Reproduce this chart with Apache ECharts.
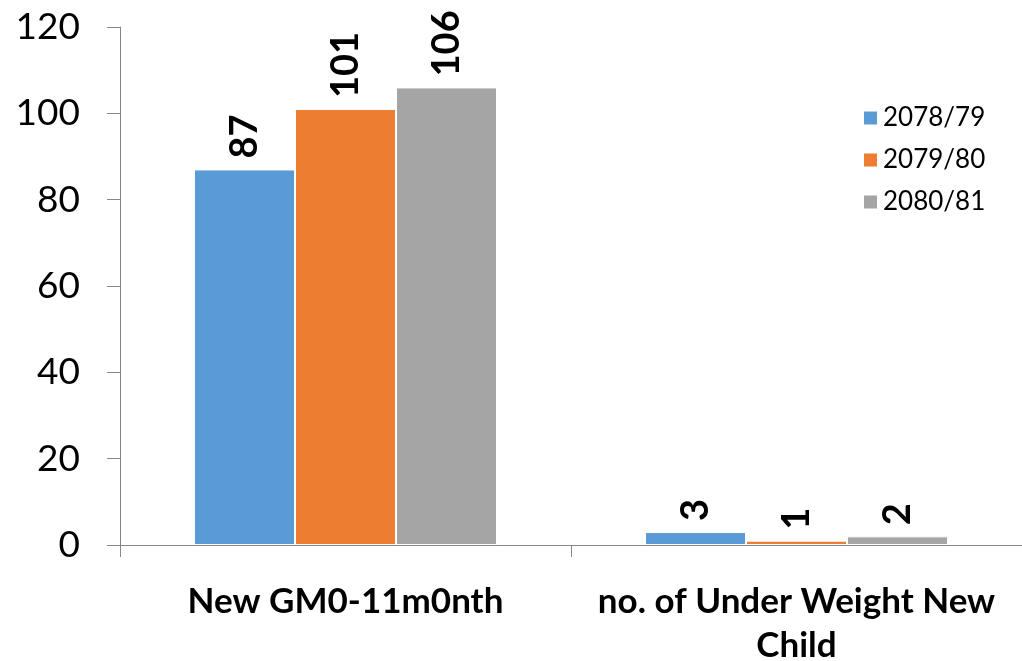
<!DOCTYPE html>
<html><head><meta charset="utf-8">
<script src="https://cdn.jsdelivr.net/npm/echarts@6/dist/echarts.min.js"></script>
<style>html,body{margin:0;padding:0;background:#fff}#c{width:1022px;height:661px}</style>
</head><body><div id="c"></div>
<script>
const categories = ['New GM0-11m0nth', 'no. of Under Weight New\nChild'];
const seriesNames = ['2078/79', '2079/80', '2080/81'];
const s2078 = [87, 3];
const s2079 = [101, 1];
const s2080 = [106, 2];
const colors = ['#5B9BD5', '#ED7D31', '#A5A5A5'];
const values = [s2078, s2079, s2080];
const font = 'Lato, "Open Sans", sans-serif';
const chart = echarts.init(document.getElementById('c'));
chart.setOption({
  animation: false,
  grid: {left: 120, right: 0, top: 27, bottom: 116, containLabel: false, outerBoundsMode: 'none'},
  legend: {
    orient: 'vertical', left: 857, top: 100, itemWidth: 15, itemHeight: 15, itemGap: 16,
    icon: 'rect',
    textStyle: {fontSize: 26, fontFamily: font, color: '#000'},
    data: seriesNames
  },
  xAxis: {
    type: 'category', data: categories,
    axisLine: {lineStyle: {color: '#868686'}},
    axisTick: {show: true, length: 12, lineStyle: {color: '#868686'}},
    axisLabel: {interval: 0, hideOverlap: false, fontSize: 35, fontWeight: 'bold', fontFamily: font, color: '#000', margin: 35, lineHeight: 44}
  },
  yAxis: {
    type: 'value', min: 0, max: 120, interval: 20,
    splitLine: {show: false},
    axisLine: {show: true, lineStyle: {color: '#868686'}},
    axisTick: {show: true, length: 13, lineStyle: {color: '#868686'}},
    axisLabel: {fontSize: 37, fontFamily: font, color: '#000', margin: 40}
  },
  series: seriesNames.map((n, i) => ({
    name: n, type: 'bar', data: values[i], barWidth: 101, barGap: '0%',
    itemStyle: {color: colors[i], borderColor: '#fff', borderWidth: 1},
    label: {show: true, position: 'top', rotate: 90, align: 'left', verticalAlign: 'middle', distance: 11,
      fontSize: 38, fontWeight: 'bold', fontFamily: font, color: '#000'}
  }))
});
</script></body></html>
